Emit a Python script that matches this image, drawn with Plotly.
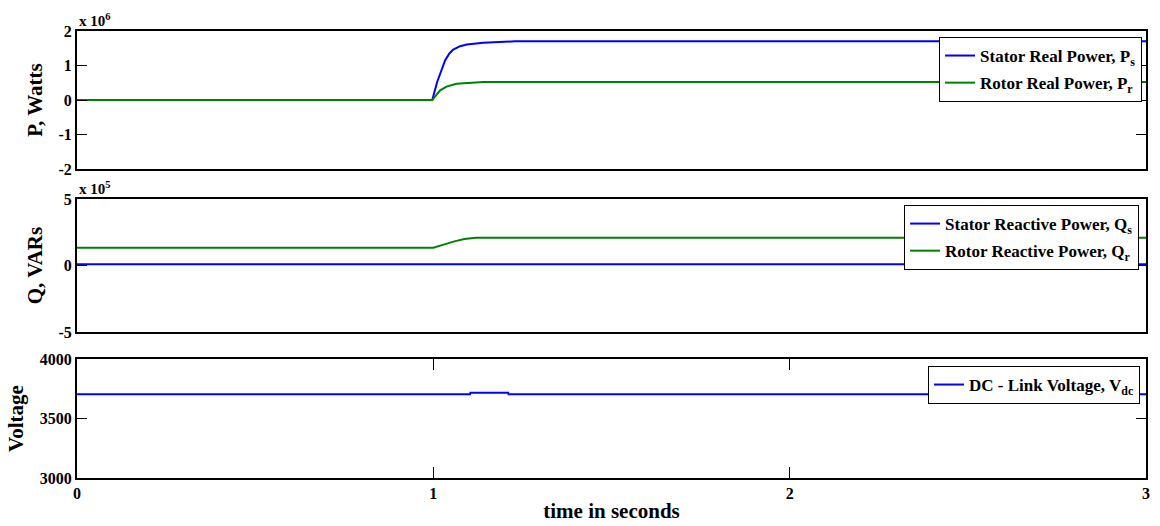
import plotly.graph_objects as go

# ---- data ----
t_ps = [0.0, 0.997, 1.011, 1.025, 1.033, 1.045, 1.056, 1.075, 1.094, 1.14, 1.229, 3.0]
ps   = [0.0, 0.0,   0.53,  0.96,  1.15,  1.35,  1.46,  1.56,  1.61,  1.66, 1.70,  1.70]   # x 1e6 W

t_pr = [0.0, 0.997, 1.019, 1.037, 1.065, 1.10, 1.14, 3.0]
pr   = [0.0, 0.0,   0.28,  0.39,  0.47,  0.50, 0.52, 0.52]                               # x 1e6 W

t_qs = [0.0, 3.0]
qs   = [0.1, 0.1]                                                                        # x 1e5 VAR

t_qr = [0.0, 1.0, 1.031, 1.059, 1.087, 1.12, 3.0]
qr   = [1.34, 1.34, 1.59, 1.82, 1.99, 2.09, 2.09]                                        # x 1e5 VAR

t_vdc = [0.0, 1.103, 1.104, 1.21, 1.211, 3.0]
vdc   = [3705, 3705, 3716, 3716, 3705, 3705]

x_ticks = [0, 1, 2, 3]
x_ticktext = ["0", "1", "2", "3"]
p_ticks = [-2, -1, 0, 1, 2]
p_ticktext = ["-2", "-1", "0", "1", "2"]
q_ticks = [-5, 0, 5]
q_ticktext = ["-5", "0", "5"]
v_ticks = [3000, 3500, 4000]
v_ticktext = ["3000", "3500", "4000"]

BLUE = "#0000FF"
GREEN = "#008000"
FONT = "Liberation Serif"

fig = go.Figure()

fig.add_trace(go.Scatter(x=t_ps, y=ps, mode="lines", line=dict(color=BLUE, width=2),
                         name="<b>Stator Real Power, P<sub>s</sub></b>",
                         xaxis="x", yaxis="y", legend="legend", legendgroup="a"))
fig.add_trace(go.Scatter(x=t_pr, y=pr, mode="lines", line=dict(color=GREEN, width=2),
                         name="<b>Rotor Real Power, P<sub>r</sub></b>",
                         xaxis="x", yaxis="y", legend="legend", legendgroup="b"))
fig.add_trace(go.Scatter(x=t_qs, y=qs, mode="lines", line=dict(color=BLUE, width=2),
                         name="<b>Stator Reactive Power, Q<sub>s</sub></b>",
                         xaxis="x2", yaxis="y2", legend="legend2", legendgroup="c"))
fig.add_trace(go.Scatter(x=t_qr, y=qr, mode="lines", line=dict(color=GREEN, width=2),
                         name="<b>Rotor Reactive Power, Q<sub>r</sub></b>",
                         xaxis="x2", yaxis="y2", legend="legend2", legendgroup="d"))
fig.add_trace(go.Scatter(x=t_vdc, y=vdc, mode="lines", line=dict(color=BLUE, width=2),
                         name="<b>DC - Link Voltage, V<sub>dc</sub></b>",
                         xaxis="x3", yaxis="y3", legend="legend3", legendgroup="e"))

tickfont = dict(family=FONT, size=16, color="black", weight="bold")
titlefont = dict(family=FONT, size=21, color="black", weight="bold")

def xax(show_labels, domain_anchor):
    return dict(domain=[0, 1], range=[0, 3], anchor=domain_anchor,
                tickvals=x_ticks if show_labels else [],
                ticktext=x_ticktext if show_labels else [],
                showticklabels=show_labels,
                ticks="inside" if show_labels else "", ticklen=11, tickcolor="black",
                showline=True, linecolor="black", linewidth=2,
                mirror="ticks" if show_labels else True,
                showgrid=False, zeroline=False, tickfont=tickfont, automargin=False)

def yax(rng, ticks, ticktext, title, domain, anchor):
    return dict(domain=domain, range=rng, anchor=anchor, tickvals=ticks, ticktext=ticktext,
                ticks="inside", ticklen=10, tickcolor="black",
                showline=True, linecolor="black", linewidth=2, mirror="ticks",
                showgrid=False, zeroline=False, tickfont=tickfont, automargin=False,
                title=dict(text=title, font=titlefont, standoff=10))

xa3 = xax(True, "y3")
xa3["title"] = dict(text="time in seconds", font=titlefont, standoff=2)

leg_common = dict(bgcolor="white", bordercolor="black", borderwidth=1,
                  xanchor="right", yanchor="top", tracegroupgap=2,
                  font=dict(family=FONT, size=17, color="black"))

fig.update_layout(
    width=1160, height=526,
    margin=dict(l=77, r=14, t=31, b=48, autoexpand=False),
    paper_bgcolor="white", plot_bgcolor="white",
    showlegend=True,
    xaxis=xax(False, "y"),
    xaxis2=xax(False, "y2"),
    xaxis3=xa3,
    yaxis=yax([-2, 2], p_ticks, p_ticktext, "P, Watts", [0.691, 1.0], "x"),
    yaxis2=yax([-5, 5], q_ticks, q_ticktext, "Q, VARs", [0.3266, 0.624], "x2"),
    yaxis3=yax([3000, 4000], v_ticks, v_ticktext, "Voltage", [0.0, 0.266], "x3"),
    legend=dict(x=0.9963, y=0.9866, **leg_common),
    legend2=dict(x=0.9935, y=0.6107, **leg_common),
    legend3=dict(x=0.9944, y=0.2506, **leg_common),
    annotations=[
        dict(text="<b>x 10<sup>6</sup></b>", xref="paper", yref="paper", x=0.0, y=1.0,
             xanchor="left", yanchor="bottom", showarrow=False, yshift=0,
             font=dict(family=FONT, size=15, color="black")),
        dict(text="<b>x 10<sup>5</sup></b>", xref="paper", yref="paper", x=0.0, y=0.624,
             xanchor="left", yanchor="bottom", showarrow=False, yshift=0,
             font=dict(family=FONT, size=15, color="black")),
    ],
)

fig.write_html("out.html", config={"displayModeBar": False},
               post_script="document.body.style.margin='0';")
